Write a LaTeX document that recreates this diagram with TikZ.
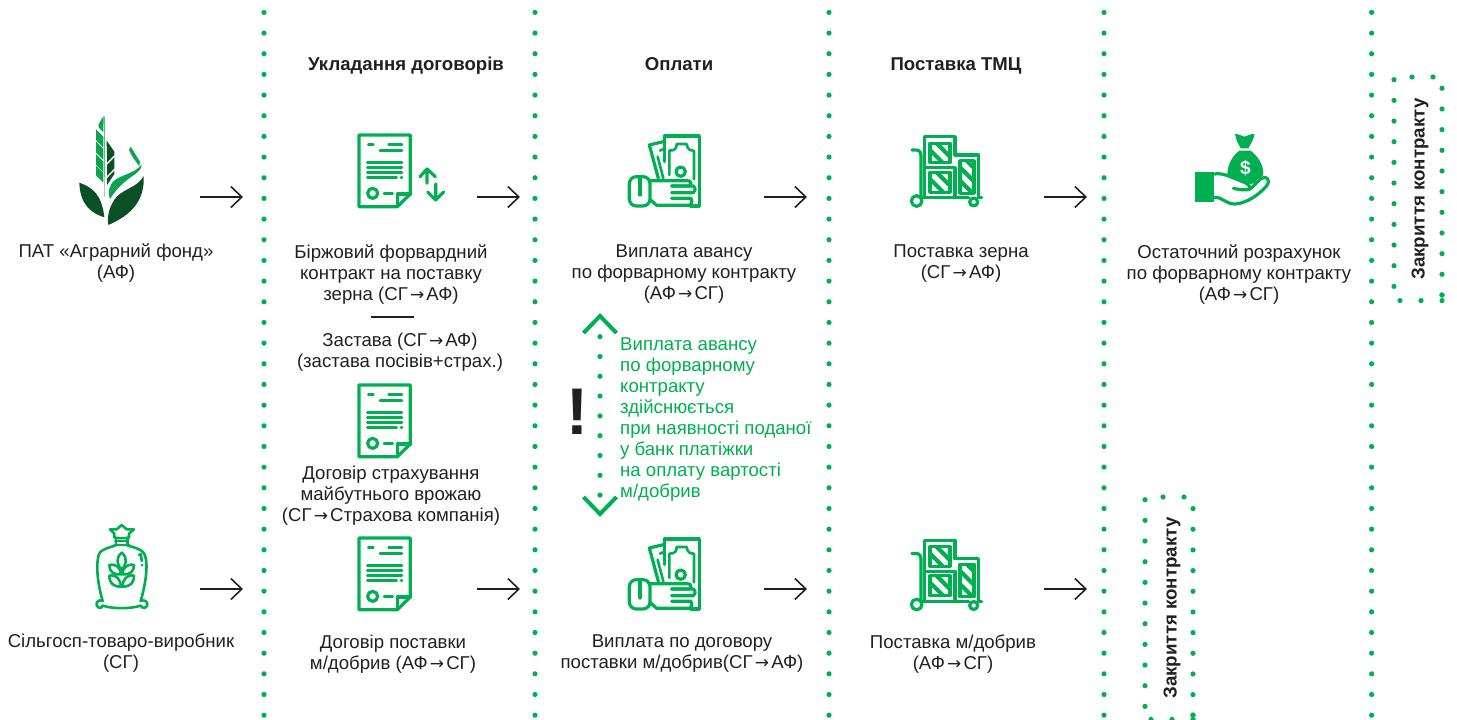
\documentclass[tikz,border=0pt]{standalone}
\usepackage{fontspec}
\setmainfont{Liberation Sans}
\newfontfamily\arrowfont{DejaVu Sans}
\newcommand\tto{\makebox[18.6pt]{\arrowfont\fontsize{17}{21}\selectfont →}}
\usetikzlibrary{arrows.meta}
\definecolor{gr}{HTML}{00B050}
\definecolor{txt}{HTML}{231F20}
\definecolor{dk}{HTML}{0B4F26}
\definecolor{lg}{HTML}{0DA34F}
\tikzset{
 lab/.style={align=center,inner sep=0pt,text=txt,font=\fontsize{18.6}{21}\selectfont},
 head/.style={inner sep=0pt,anchor=base,text=txt,font=\fontsize{18.6}{21}\selectfont\bfseries},
 vert/.style={inner sep=0pt,text=txt,rotate=90,font=\fontsize{18.7}{21}\selectfont\bfseries},
 note/.style={align=left,inner sep=0pt,anchor=west,text=gr,font=\fontsize{18.6}{21}\selectfont},
 flow/.style={draw=txt,line width=1.6pt,-{Straight Barb[length=11pt,width=21pt,line width=1.6pt]}},
 ic/.style={draw=gr,line width=3.2pt,line cap=round,line join=round},
 ict/.style={draw=gr,line width=2.6pt,line cap=round,line join=round},
 grdot/.style={fill=gr,draw=none}
}
\newcommand\dotat[2]{\fill[grdot] (#1,#2) circle (2.6pt);}
\newcommand\docicon[1]{\begin{scope}[shift={#1},x=.33333pt,y=-.33333pt]
 \draw[ic] (172,260) -- (57,260) -- (57,45) -- (211,45) -- (211,222) -- cycle;
 \draw[ic] (172,260) -- (172,222) -- (211,222);
 \draw[ict] (85,73)--(100,73) (146,73)--(186,73) (120,92)--(186,92)
   (82,127)--(186,127) (82,142)--(186,142) (82,157)--(186,157) (82,172)--(170,172) (183,172)--(186,172);
 \draw[ic] (98,220) circle (15);
 \draw[ict] (132,220)--(158,220);
\end{scope}}
\newcommand\handmoney[1]{\begin{scope}[shift={#1},x=.33333pt,y=-.33333pt]
 \draw[ic] (163,125) -- (163,48) -- (268,48) -- (268,258) -- (242,258);
 \draw[ict] (178,165) -- (178,92) .. controls (195,92) and (200,85) .. (200,72) -- (230,72) .. controls (232,88) and (240,92) .. (252,92) -- (252,178);
 \draw[ic] (145,175) -- (118,75) -- (160,65);
 \draw[ict] (160,175) -- (143,110) (150,92)--(158,88);
 \draw[ic] (212,155) circle (14);
 \draw[ic,rounded corners=7pt] (120,170) -- (58,170) -- (58,258) -- (120,258) -- cycle;
 \draw[ic] (90,175) -- (90,225);
 \draw[ic] (122,182) -- (230,182) .. controls (245,180) and (245,195) .. (238,198) -- (185,198);
 \draw[ic] (185,198) -- (250,198) .. controls (258,205) and (256,215) .. (250,218) -- (185,218) (185,235) -- (242,235) .. controls (248,240) and (246,252) .. (238,256) -- (140,256) -- (122,240);
\end{scope}}
\newcommand\stripes[4]{\begin{scope}
 \clip (#1,#2) rectangle (#3,#4);
 \foreach \k in {-220,-180,...,300} {\draw[gr,line width=4.2pt] (#1+\k,#2) -- (#1+\k+200,#2+200);}
 \end{scope}
 \draw[ic] (#1,#2) rectangle (#3,#4);}
\newcommand\carticon[1]{\begin{scope}[shift={#1},x=.33333pt,y=-.33333pt]
 \draw[ic] (195,105) -- (195,50) -- (103,50) -- (103,232);
 \draw[ic] (103,143) -- (195,143) -- (195,232);
 \draw[ic] (195,105) -- (266,105) -- (266,232);
 \stripes{120}{70}{180}{128}
 \stripes{120}{157}{180}{217}
 \stripes{210}{122}{252}{220}
 \draw[ic] (66,90) -- (78,90) .. controls (88,90) and (93,97) .. (93,108) -- (93,228);
 \draw[ic] (96,233) -- (236,233) (265,233) -- (275,233);
 \draw[ic] (80,243) circle (16);
 \draw[ic] (251,246) circle (12);
\end{scope}}
\begin{document}
\begin{tikzpicture}[x=1pt,y=-1pt]
\useasboundingbox (0,0) rectangle (1457,720);
% separators
\foreach \cx in {264,535,829,1104,1371.6}{
  \foreach \k in {0,...,34}{ \pgfmathsetmacro\yy{12.4+20.67*\k}\dotat{\cx}{\yy} }
}
% logo
\begin{scope}[shift={(60,100)},x=.33333pt,y=-.33333pt]
 \fill[lg] (131,48) -- (116,72) -- (116,82) -- (130,97) -- cycle;
 \fill[lg] (108,88) -- (130,110) -- (130,142) -- (108,120) -- cycle
           (108,125) -- (130,147) -- (130,179) -- (108,157) -- cycle
           (108,162) -- (130,184) -- (130,216) -- (108,194) -- cycle
           (108,197) -- (130,219) -- (130,248) -- (108,226) -- cycle;
 \fill[lg!70!white] (132,50) -- (135,50) -- (134,290) -- (132,290) -- cycle;
 \fill[dk] (140,122) -- (163,155) -- (163,165) -- (141,188) -- cycle
           (163,172) -- (163,205) -- (141,228) -- (141,195) -- cycle
           (163,212) -- (163,222) -- (141,255) -- (141,235) -- cycle;
 \fill[lg] (207,150) -- (212,140) -- (240,185) -- (238,198) .. controls (228,185) and (215,170) .. (207,150) -- cycle;
 \fill[lg] (245,193) .. controls (246,225) and (195,225) .. (150,297) .. controls (142,280) and (146,255) .. (165,240) .. controls (190,222) and (225,220) .. (245,193) -- cycle;
 \fill[dk] (58,248) .. controls (95,262) and (125,280) .. (133,352) .. controls (95,340) and (60,315) .. (58,248) -- cycle;
 \fill[dk] (251,228) .. controls (255,300) and (215,345) .. (145,375) .. controls (140,345) and (150,315) .. (170,290) .. controls (195,265) and (235,260) .. (251,228) -- cycle;
\end{scope}
% sack
\begin{scope}[shift={(80,515)},x=.33333pt,y=-.33333pt]
 \draw[ict] (90,43) -- (110,43) -- (125,30) -- (140,43) -- (162,43) -- (147,56) -- (147,68) .. controls (135,70) and (115,70) .. (103,68) -- (103,56) -- cycle;
 \draw[ict] (105,78) -- (145,78) (108,68) -- (108,92) (142,68) -- (142,92) (103,90) -- (148,90);
 \draw[ict] (105,92) .. controls (85,98) and (70,102) .. (60,112) .. controls (48,130) and (48,190) .. (68,258);
 \draw[ict] (145,92) .. controls (165,98) and (180,102) .. (190,112) .. controls (205,130) and (202,190) .. (182,258);
 \draw[ict] (68,272) .. controls (100,282) and (150,282) .. (182,272);
 \draw[ict] (68,258) .. controls (58,252) and (48,260) .. (50,270) .. controls (52,280) and (65,282) .. (68,272);
 \draw[ict] (182,258) .. controls (192,252) and (204,260) .. (202,270) .. controls (200,280) and (187,282) .. (182,272);
 \draw[ict] (177,120) -- (183,118) -- (185,138) (186,150) -- (186,151);
 \draw[ict] (125,113) .. controls (105,130) and (112,150) .. (125,165) .. controls (138,150) and (145,130) .. (125,113) -- cycle;
 \draw[ict] (88,150) .. controls (110,145) and (122,160) .. (123,178) .. controls (100,180) and (88,170) .. (88,150) -- cycle;
 \draw[ict] (162,150) .. controls (140,145) and (128,160) .. (127,178) .. controls (150,180) and (162,170) .. (162,150) -- cycle;
 \draw[ict] (88,182) .. controls (110,177) and (122,195) .. (123,215) .. controls (100,215) and (88,205) .. (88,182) -- cycle;
 \draw[ict] (162,182) .. controls (140,177) and (128,195) .. (127,215) .. controls (150,215) and (162,205) .. (162,182) -- cycle;
\end{scope}
% icons
\docicon{(340,120)}
\begin{scope}[shift={(340,120)},x=.33333pt,y=-.33333pt]
 \draw[ic] (261,190) -- (261,147) (240,170) -- (261,147) -- (286,170);
 \draw[ic] (287,192) -- (287,240) (263,216) -- (287,240) -- (311,216);
\end{scope}
\docicon{(340,370)}
\docicon{(340,523)}
\handmoney{(610,120)}
\handmoney{(610,523)}
\carticon{(890,120)}
\carticon{(890,523.5)}
% money bag
\begin{scope}[shift={(1180,120)},x=.33333pt,y=-.33333pt]
 \fill[gr] (45,155) rectangle (102,245);
 \fill[gr] (165,42) .. controls (178,42) and (185,48) .. (193,50) .. controls (202,48) and (212,40) .. (224,42) .. controls (220,60) and (212,72) .. (205,85) -- (182,85) .. controls (175,72) and (168,60) .. (165,42) -- cycle;
 \fill[gr] (178,92) -- (212,92) .. controls (235,110) and (250,135) .. (250,160) .. controls (250,170) and (240,172) .. (232,178) .. controls (225,190) and (215,195) .. (205,190) .. controls (185,180) and (160,170) .. (142,165) .. controls (142,135) and (155,110) .. (178,92) -- cycle;
 \draw[gr,line width=3.2pt,line cap=round,line join=round] (104,162) .. controls (130,158) and (150,170) .. (195,188) .. controls (205,192) and (212,200) .. (208,208) .. controls (195,212) and (175,208) .. (160,205);
 \draw[gr,line width=3.2pt,line cap=round,line join=round] (208,208) .. controls (225,198) and (240,170) .. (255,172) .. controls (268,175) and (268,190) .. (258,200) .. controls (235,225) and (200,250) .. (165,252) .. controls (135,252) and (130,232) .. (104,232);
 \node[inner sep=0pt,text=white,font=\fontsize{19}{19}\selectfont\bfseries] (dollar) at (196,144) {\$};
\end{scope}
% warning block
\draw[gr,line width=4pt,line cap=butt] (583.5,333) -- (600,316) -- (616.5,333);
\draw[gr,line width=4pt,line cap=butt] (583.5,497) -- (600,514) -- (616.5,497);
\foreach \k in {0,...,8}{ \pgfmathsetmacro\yy{336.7+19.8*\k}\dotat{600}{\yy} }
\node[inner sep=0pt,text=txt,font=\fontsize{66}{66}\selectfont\bfseries] (excl) at (577,412) {!};
\node[note] (warn) at (620,419.3) {Виплата авансу\\по форварному\\контракту\\здійснюється\\при наявності поданої\\у банк платіжки\\на оплату вартості\\м/добрив};
% labels
\node[head] (h1) at (406,70) {Укладання договорів};
\node[head] (h2) at (679,70) {Оплати};
\node[head] (h3) at (956,70) {Поставка ТМЦ};
\node[lab] (af) at (116,263.5) {ПАТ «Аграрний фонд»\\(АФ)};
\node[lab] (sg) at (121,653.5) {Сільгосп-товаро-виробник\\(СГ)};
\node[lab] (c1) at (391,274.2) {Біржовий форвардний\\контракт на поставку\\зерна (СГ\tto АФ)};
\node[lab] (c2) at (400,352.2) {Застава (СГ\tto АФ)\\(застава посівів+страх.)};
\node[lab] (c3) at (391,495.7) {Договір страхування\\майбутнього врожаю\\(СГ\tto Страхова компанія)};
\node[lab] (c4) at (393,653.7) {Договір поставки\\м/добрив (АФ\tto СГ)};
\node[lab] (p1) at (684,274.2) {Виплата авансу\\по форварному контракту\\(АФ\tto СГ)};
\node[lab] (p2) at (682,653.7) {Виплата по договору\\поставки м/добрив(СГ\tto АФ)};
\node[lab] (d1) at (961,263.7) {Поставка зерна\\(СГ\tto АФ)};
\node[lab] (d2) at (953,653.7) {Поставка м/добрив\\(АФ\tto СГ)};
\node[lab] (r1) at (1239,274.2) {Остаточний розрахунок\\по форварному контракту\\(АФ\tto СГ)};
% rule
\coordinate (ra) at (371,317); \coordinate (rb) at (414,317);
\draw[txt,line width=2pt] (ra) -- (rb);
% arrows
\foreach \n/\x/\y in {a/200/197,b/477/197,c/764/197,d/1044/197,e/200/589,f/477/589,g/764/589,h/1044/589}{
  \coordinate (\n0) at (\x,\y);
  \coordinate (\n1) at (\x+43,\y);
  \draw[flow] (\n0) -- (\n1);
}
% closing boxes
\node[vert] (cl1) at (1420,189) {Закриття контракту};
\node[vert] (cl2) at (1172,608) {Закриття контракту};
\foreach \k in {0,...,10}{ \pgfmathsetmacro\yy{79.7+20.67*\k}\dotat{1394}{\yy}
  \pgfmathsetmacro\yz{88.3+20.67*\k}\dotat{1442}{\yz}
  \pgfmathsetmacro\yu{499.7+20.67*\k}\dotat{1145}{\yu}
  \pgfmathsetmacro\yv{508.6+20.67*\k}\dotat{1193}{\yv} }
\dotat{1412}{77}\dotat{1433}{77}\dotat{1442}{295}\dotat{1400}{300.6}\dotat{1421}{300.6}\dotat{1442}{300.6}
\dotat{1163}{497}\dotat{1184}{497}\dotat{1193}{715}\dotat{1151}{719.5}\dotat{1172}{719.5}\dotat{1193}{719.5}
\end{tikzpicture}
\end{document}
